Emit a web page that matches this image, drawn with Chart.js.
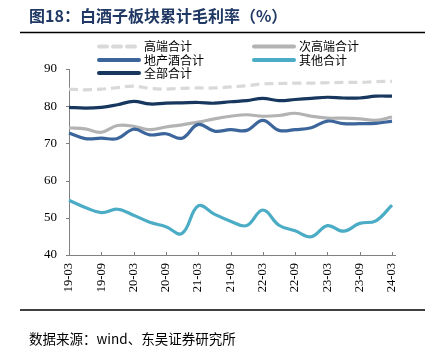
<!DOCTYPE html>
<html>
<head>
<meta charset="utf-8">
<script src="https://cdn.jsdelivr.net/npm/chart.js@4.4.1/dist/chart.umd.min.js"></script>
<style>
  html, body { margin: 0; padding: 0; background: #fff; }
  #wrap { width: 433px; height: 357px; position: relative; }
</style>
</head>
<body>
<div id="wrap"><canvas id="c" width="433" height="357"></canvas></div>
<script>
const categories = ['19-03','19-06','19-09','19-12','20-03','20-06','20-09','20-12','21-03','21-06','21-09','21-12','22-03','22-06','22-09','22-12','23-03','23-06','23-09','23-12','24-03'];
const highEnd   = [84.6, 84.4, 84.6, 85.0, 85.4, 84.8, 84.6, 84.8, 84.9, 84.9, 85.2, 85.5, 86.0, 86.1, 86.2, 86.2, 86.3, 86.4, 86.4, 86.6, 86.7];
const subHigh   = [74.2, 73.9, 73.0, 74.8, 74.6, 73.7, 74.4, 75.0, 75.7, 76.6, 77.3, 77.7, 77.3, 77.5, 78.1, 77.3, 76.8, 76.8, 76.6, 76.2, 77.1];
const regional  = [72.8, 71.3, 71.4, 71.3, 73.8, 72.3, 72.6, 71.4, 75.1, 73.3, 73.7, 73.5, 76.2, 73.5, 73.7, 74.2, 76.0, 75.3, 75.3, 75.4, 76.0];
const others    = [54.7, 52.8, 51.4, 52.3, 50.7, 48.8, 47.6, 45.8, 53.2, 51.0, 49.1, 47.9, 52.1, 48.0, 46.5, 44.9, 47.9, 46.4, 48.5, 49.2, 53.4];
const total     = [79.7, 79.5, 79.7, 80.4, 81.3, 80.6, 80.8, 80.9, 81.0, 80.8, 81.2, 81.5, 82.1, 81.5, 81.8, 82.1, 82.4, 82.2, 82.2, 82.7, 82.7];
const seriesNames = ['高端合计', '次高端合计', '地产酒合计', '其他合计', '全部合计'];
const yTicks = [40, 50, 60, 70, 80, 90];
const titleText = '图18：白酒子板块累计毛利率（%）';
const sourceText = '数据来源：wind、东吴证券研究所';

const colors = ['#D9D9D9', '#B3B3B3', '#3B659B', '#4BACC6', '#17375E'];
const dashes = [[9, 5], [], [], [], []];
const allSeries = [highEnd, subHigh, regional, others, total];

const datasets = allSeries.map((d, i) => ({
  label: seriesNames[i],
  data: d,
  borderColor: colors[i],
  backgroundColor: colors[i],
  borderWidth: 3.2,
  borderDash: dashes[i],
  pointRadius: 0,
  tension: 0.4,
  fill: false,
  order: [5, 4, 1, 2, 3][i]
}));

const chromePlugin = {
  id: 'chrome',
  afterDraw(chart) {
    const ctx = chart.ctx;
    const xs = chart.scales.x, ys = chart.scales.y;
    const ca = chart.chartArea;
    ctx.save();
    // title
    ctx.fillStyle = '#1F3864';
    ctx.font = 'bold 16px "Noto Sans CJK SC"';
    ctx.textBaseline = 'middle';
    ctx.textAlign = 'left';
    ctx.fillText(titleText, 29, 16);
    // rules
    ctx.strokeStyle = '#000';
    ctx.lineWidth = 1.5;
    ctx.beginPath(); ctx.moveTo(20, 32.5); ctx.lineTo(425, 32.5); ctx.stroke();
    ctx.beginPath(); ctx.moveTo(20, 310); ctx.lineTo(425, 310); ctx.stroke();
    // source
    ctx.fillStyle = '#000';
    ctx.font = '13.5px "Noto Sans CJK SC"';
    ctx.fillText(sourceText, 29, 339);
    // legend
    const slots = [[97, 46.5], [252, 46.5], [97, 60], [252, 60], [97, 73]];
    ctx.font = '12px "Noto Sans CJK SC"';
    chart.data.datasets.forEach((ds, i) => {
      const [lx, ly] = slots[i];
      ctx.strokeStyle = ds.borderColor;
      ctx.lineWidth = 4;
      ctx.lineCap = 'round';
      ctx.setLineDash(ds.borderDash && ds.borderDash.length ? [8, 6] : []);
      ctx.beginPath(); ctx.moveTo(lx + 2, ly); ctx.lineTo(lx + 42, ly); ctx.stroke();
      ctx.setLineDash([]);
      ctx.lineCap = 'butt';
      ctx.fillStyle = '#000';
      ctx.fillText(ds.label, lx + 47, ly);
    });
    // axis tick marks
    ctx.strokeStyle = '#808080';
    ctx.lineWidth = 1;
    categories.forEach((c, i) => {
      if (i % 2 === 0) {
        const px = Math.round(xs.getPixelForValue(i)) + 0.5;
        ctx.beginPath(); ctx.moveTo(px, ca.bottom); ctx.lineTo(px, ca.bottom - 3); ctx.stroke();
      }
    });
    yTicks.forEach(v => {
      const py = Math.round(ys.getPixelForValue(v)) + 0.5;
      ctx.beginPath(); ctx.moveTo(ca.left, py); ctx.lineTo(ca.left - 3, py); ctx.stroke();
    });
    // extend x axis slightly
    ctx.beginPath(); ctx.moveTo(ca.right, Math.round(ca.bottom) + 0.5); ctx.lineTo(ca.right + 4, Math.round(ca.bottom) + 0.5); ctx.stroke();
    ctx.restore();
  }
};

new Chart(document.getElementById('c'), {
  type: 'line',
  data: { labels: categories, datasets },
  options: {
    responsive: false,
    animation: false,
    devicePixelRatio: 1,
    layout: { padding: { top: 69, right: 41, bottom: 0, left: 0 } },
    plugins: { legend: { display: false }, tooltip: { enabled: false } },
    scales: {
      x: {
        offset: false,
        grid: { display: true, drawOnChartArea: false, drawTicks: false },
        border: { display: true, color: '#808080', width: 1 },
        ticks: {
          autoSkip: false,
          maxRotation: 90,
          minRotation: 90,
          padding: 8,
          color: '#000',
          font: { family: '"Liberation Serif"', size: 12.5 },
          callback: (v, i) => (i % 2 === 0 ? categories[i] : '')
        },
        afterFit: s => { s.height = 102; }
      },
      y: {
        min: 40,
        max: 90,
        grid: { display: true, drawOnChartArea: false, drawTicks: false },
        border: { display: true, color: '#808080', width: 1 },
        ticks: {
          stepSize: 10,
          padding: 12,
          color: '#000',
          font: { family: '"Liberation Serif"', size: 13 }
        },
        afterFit: s => { s.width = 69; }
      }
    }
  },
  plugins: [chromePlugin]
});
</script>
</body>
</html>
